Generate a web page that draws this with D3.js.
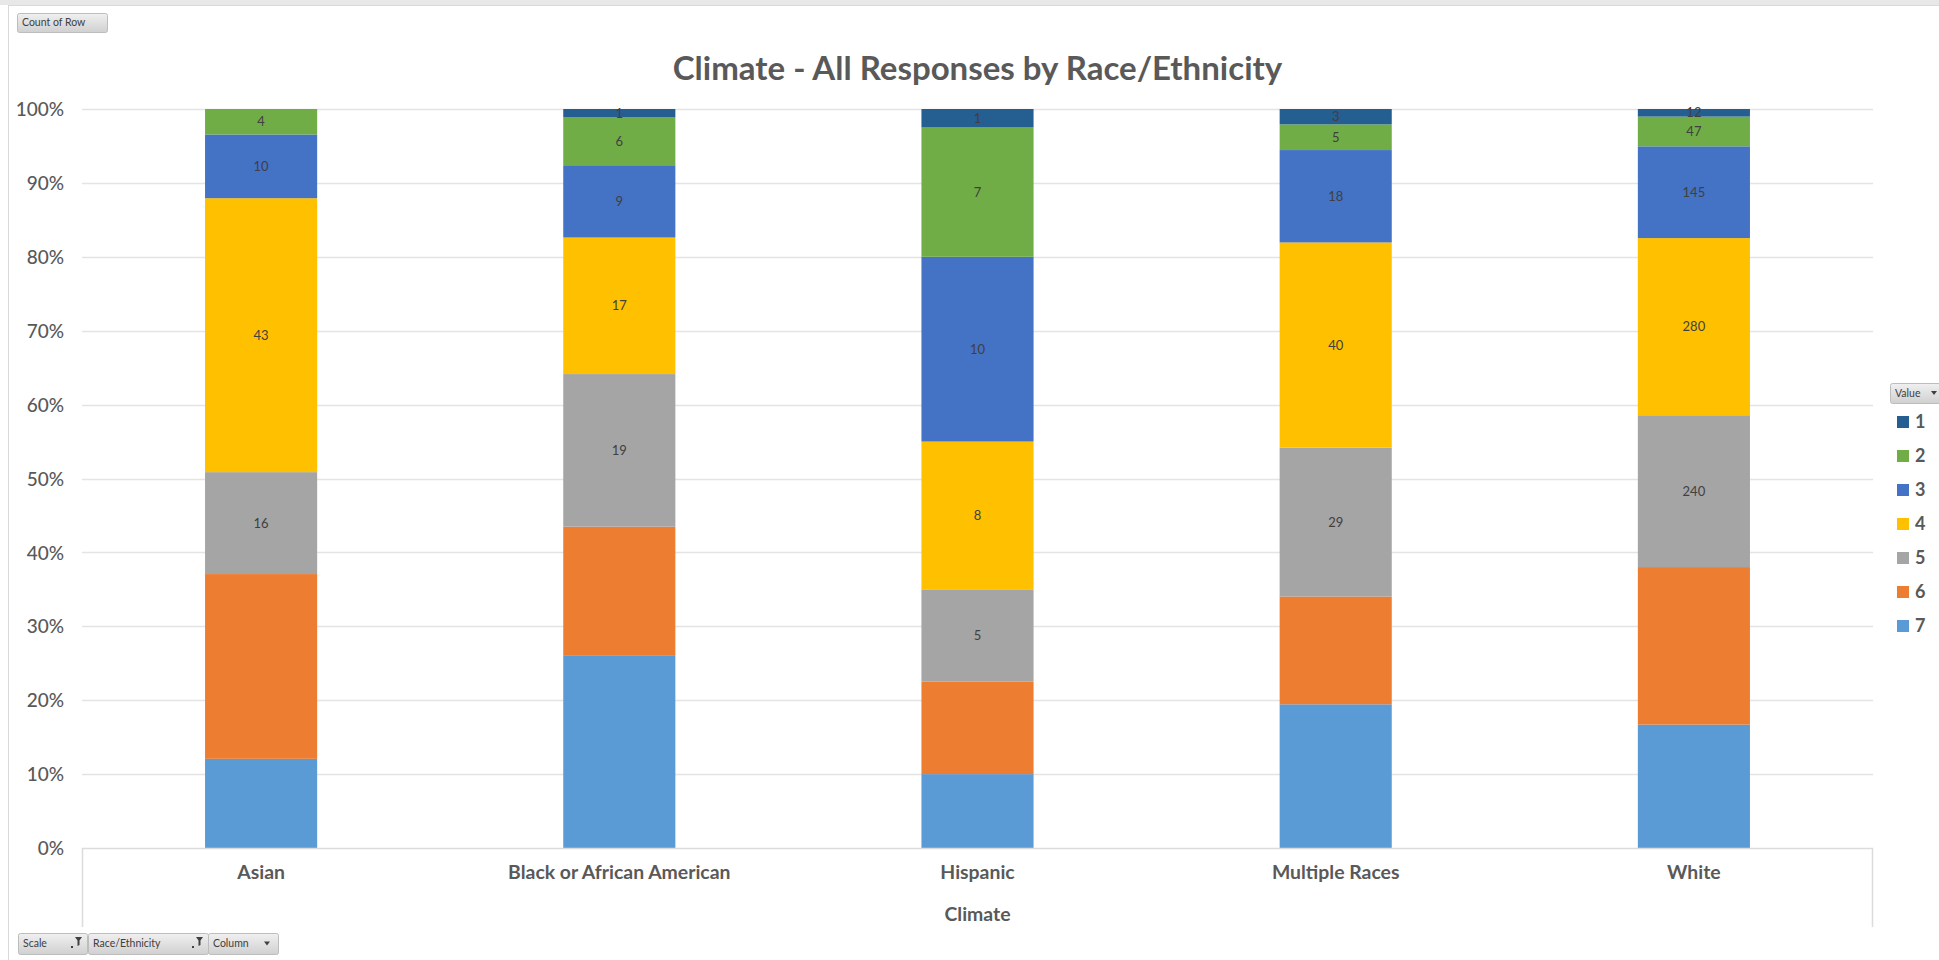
<!DOCTYPE html>
<html><head><meta charset="utf-8">
<script src="https://cdn.jsdelivr.net/npm/d3@7"></script>
<style>
html,body{margin:0;padding:0;background:#fff;}
text{font-family:Lato,"Open Sans",sans-serif;}
</style></head>
<body><svg id="c" width="1939" height="960"></svg>
<script>
const categories = ["Asian","Black or African American","Hispanic","Multiple Races","White"];
const seriesKeys = ["7","6","5","4","3","2","1"];
const legendKeys = ["1","2","3","4","5","6","7"];
const s1 = [0, 1, 1, 3, 12];
const s2 = [4, 6, 7, 5, 47];
const s3 = [10, 9, 10, 18, 145];
const s4 = [43, 17, 8, 40, 280];
const s5 = [16, 19, 5, 29, 240];
const s6 = [29, 16, 5, 21, 249];
const s7 = [14, 24, 4, 28, 195];
const labelledSeries = ["1","2","3","4","5"];
const yTicks = [0,0.1,0.2,0.3,0.4,0.5,0.6,0.7,0.8,0.9,1.0];
const colors = {"1":"#255E91","2":"#70AD47","3":"#4472C4","4":"#FFC000","5":"#A5A5A5","6":"#ED7D31","7":"#5B9BD5"};
const title = "Climate - All Responses by Race/Ethnicity";
const xTitle = "Climate";

const seriesVals = {"1":s1,"2":s2,"3":s3,"4":s4,"5":s5,"6":s6,"7":s7};
const rows = categories.map((c,i)=>{const r={cat:c}; seriesKeys.forEach(k=>r[k]=seriesVals[k][i]); return r;});

const svg = d3.select("#c");
const W=1939,H=960;
svg.append("rect").attr("x",0).attr("y",0).attr("width",W).attr("height",5).attr("fill","#e8e8e8");
svg.append("line").attr("x1",8.5).attr("x2",8.5).attr("y1",5).attr("y2",H).attr("stroke","#d9d9d9");
svg.append("line").attr("x1",8).attr("x2",W).attr("y1",5.5).attr("y2",5.5).attr("stroke","#d9d9d9");

const x0=82,x1=1873,yTop=109,yBot=848,catBot=927;
const x = d3.scaleBand().domain(categories).range([x0,x1]).paddingInner(0.687).paddingOuter(0.3435);
const y = d3.scaleLinear().domain([0,1]).range([yBot,yTop]);

svg.append("g").selectAll("line").data(yTicks.filter(t=>t>0)).join("line")
 .attr("x1",x0).attr("x2",x1).attr("y1",d=>Math.round(y(d))+0.5).attr("y2",d=>Math.round(y(d))+0.5)
 .attr("stroke","#e4e4e4").attr("stroke-width",1.5);

const yAxis = d3.axisLeft(y).tickValues(yTicks).tickFormat(d3.format(".0%")).tickSize(0).tickPadding(0);
const ya = svg.append("g").attr("transform",`translate(64,0)`).call(yAxis);
ya.select(".domain").remove();
ya.selectAll("text").attr("font-size",19).attr("fill","#595959").attr("dy","0.35em").attr("font-weight",500);

const stack = d3.stack().keys(seriesKeys).offset(d3.stackOffsetExpand);
const layers = stack(rows);
const g = svg.append("g");
layers.forEach(layer=>{
  g.append("g").selectAll("rect").data(layer).join("rect")
   .attr("x",d=>x(d.data.cat)).attr("width",x.bandwidth())
   .attr("y",d=>y(d[1])).attr("height",d=>Math.max(0,y(d[0])-y(d[1])))
   .attr("fill",colors[layer.key]);
});
layers.filter(l=>labelledSeries.includes(l.key)).forEach(layer=>{
  g.append("g").selectAll("text").data(layer.filter(d=>d.data[layer.key]>0)).join("text")
   .attr("x",d=>x(d.data.cat)+x.bandwidth()/2)
   .attr("y",d=>(y(d[0])+y(d[1]))/2).attr("dy","0.35em")
   .attr("text-anchor","middle").attr("font-size",13).attr("fill","#404040")
   .text(d=>d.data[layer.key]);
});

svg.append("path").attr("d",`M${x0+0.5},${catBot}V${yBot+0.5}H${x1-0.5}V${catBot}`)
 .attr("fill","none").attr("stroke","#dcdcdc").attr("stroke-width",1.5);
const xAxis = d3.axisBottom(x).tickSize(0).tickPadding(0);
const xa = svg.append("g").attr("transform",`translate(0,${yBot})`).call(xAxis);
xa.select(".domain").remove();
xa.selectAll("text").attr("dy",0).attr("y",31).attr("font-size",19.4).attr("font-weight",700).attr("fill","#595959");

svg.append("text").attr("x",(x0+x1)/2).attr("y",921).attr("text-anchor","middle")
 .attr("font-size",19.4).attr("font-weight",700).attr("fill","#595959").text(xTitle);

svg.append("text").attr("x",(x0+x1)/2).attr("y",80).attr("text-anchor","middle")
 .attr("font-size",33).attr("font-weight",700).attr("fill","#595959").text(title);

const grad = svg.append("defs").append("linearGradient").attr("id","btn").attr("x1",0).attr("x2",0).attr("y1",0).attr("y2",1);
grad.append("stop").attr("offset","0%").attr("stop-color","#f0f0f0");
grad.append("stop").attr("offset","100%").attr("stop-color","#d0d0d0");
function button(bx,by,bw,bh,label,arrow,filter){
  const b=svg.append("g");
  b.append("rect").attr("x",bx+0.5).attr("y",by+0.5).attr("width",bw).attr("height",bh).attr("rx",2)
   .attr("fill","url(#btn)").attr("stroke","#bdbdbd");
  b.append("text").attr("x",bx+5).attr("y",by+bh/2).attr("dy","0.35em").attr("font-size",10.5).attr("fill","#404040").text(label);
  if(filter){
    b.append("path").attr("d",`M${bx+bw-12},${by+4}h7l-2.5,3.5v4.5l-2,1v-5.5z`).attr("fill","#404040");
    b.append("rect").attr("x",bx+bw-16).attr("y",by+bh-8).attr("width",2).attr("height",2).attr("fill","#404040");
  } else if(arrow){
    b.append("path").attr("d",`M${bx+bw-14},${by+bh/2-2}h6l-3,4z`).attr("fill","#404040");
  }
}
button(17,13,90,19,"Count of Row",false,false);
button(18,933,69,21,"Scale",false,true);
button(88,933,120,21,"Race/Ethnicity",false,true);
button(208,933,70,21,"Column",true,false);
button(1890,383,55,20,"Value",true,false);

const lg = svg.append("g");
legendKeys.forEach((k,i)=>{
  const ly = 422 + i*34;
  lg.append("rect").attr("x",1897).attr("y",ly-6).attr("width",12).attr("height",12).attr("fill",colors[k]);
  lg.append("text").attr("x",1915).attr("y",ly).attr("dy","0.35em").attr("font-size",18).attr("font-weight",700).attr("fill","#595959").text(k);
});
</script></body></html>
